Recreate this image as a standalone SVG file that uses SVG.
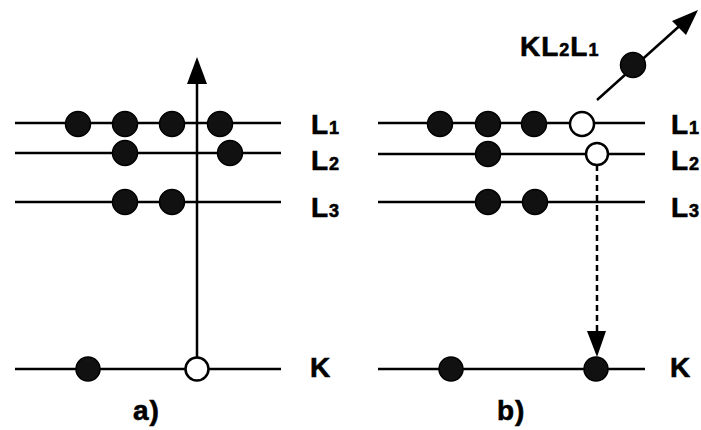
<svg xmlns="http://www.w3.org/2000/svg" width="701" height="430" viewBox="0 0 701 430">
<style>
.lv{stroke:#000;stroke-width:2.5;fill:none}
.f{fill:#111;stroke:#000;stroke-width:1.5}
.o{fill:#fff;stroke:#000;stroke-width:2.5}
.t{font-family:"Liberation Sans",Arial,sans-serif;font-weight:bold;fill:#000;stroke:#000;stroke-width:0.6;letter-spacing:1px}
.s{font-size:18px}
.b{font-size:28px}
</style>
<rect width="701" height="430" fill="#fff"/>
<g id="connectors">
<line x1="197" y1="357" x2="197" y2="80" class="lv"/>
<path d="M187,84 L197,57 L207,84 Z" fill="#000"/>
<line x1="597" y1="165" x2="597" y2="332" class="lv" stroke-dasharray="6,4"/>
<path d="M587,331 L597,357 L606,331 Z" fill="#000"/>
<line x1="597" y1="100" x2="685" y2="21" class="lv"/>
<path d="M672,21 L698,10 L686,35 Z" fill="#000"/>
</g>
<g id="panel-a">
<line x1="15" y1="123" x2="281" y2="123" class="lv"/>
<line x1="15" y1="153" x2="281" y2="153" class="lv"/>
<line x1="15" y1="202" x2="281" y2="202" class="lv"/>
<line x1="15" y1="369" x2="281" y2="369" class="lv"/>
<circle cx="78" cy="124" r="12.5" class="f"/>
<circle cx="125" cy="124" r="12.5" class="f"/>
<circle cx="172" cy="124" r="12.5" class="f"/>
<circle cx="220" cy="124" r="12.5" class="f"/>
<circle cx="125" cy="153" r="12.5" class="f"/>
<circle cx="230" cy="153" r="12.5" class="f"/>
<circle cx="125" cy="202" r="12.5" class="f"/>
<circle cx="172" cy="202" r="12.5" class="f"/>
<circle cx="88" cy="369" r="12" class="f"/>
<circle cx="197" cy="369" r="11.5" class="o"/>
<text x="311" y="134" class="t b">L<tspan class="s">1</tspan></text>
<text x="311" y="170" class="t b">L<tspan class="s">2</tspan></text>
<text x="311" y="217" class="t b">L<tspan class="s">3</tspan></text>
<text x="310" y="377" class="t b">K</text>
<text x="133" y="420" class="t b">a)</text>
</g>
<g id="panel-b">
<line x1="378" y1="123" x2="645" y2="123" class="lv"/>
<line x1="378" y1="154" x2="645" y2="154" class="lv"/>
<line x1="378" y1="202" x2="645" y2="202" class="lv"/>
<line x1="378" y1="369" x2="645" y2="369" class="lv"/>
<circle cx="440" cy="124" r="12.5" class="f"/>
<circle cx="488" cy="124" r="12.5" class="f"/>
<circle cx="534" cy="124" r="12.5" class="f"/>
<circle cx="582" cy="124" r="12" class="o"/>
<circle cx="488" cy="154" r="12.5" class="f"/>
<circle cx="597" cy="154" r="11" class="o"/>
<circle cx="488" cy="202" r="12.5" class="f"/>
<circle cx="535" cy="202" r="12.5" class="f"/>
<circle cx="451" cy="369" r="12" class="f"/>
<circle cx="596" cy="369" r="12" class="f"/>
<circle cx="633" cy="65" r="12.5" class="f"/>
<text x="520" y="56" class="t b">KL<tspan class="s">2</tspan>L<tspan class="s">1</tspan></text>
<text x="671" y="134" class="t b">L<tspan class="s">1</tspan></text>
<text x="671" y="170" class="t b">L<tspan class="s">2</tspan></text>
<text x="671" y="217" class="t b">L<tspan class="s">3</tspan></text>
<text x="670" y="377" class="t b">K</text>
<text x="497" y="420" class="t b">b)</text>
</g>
</svg>
